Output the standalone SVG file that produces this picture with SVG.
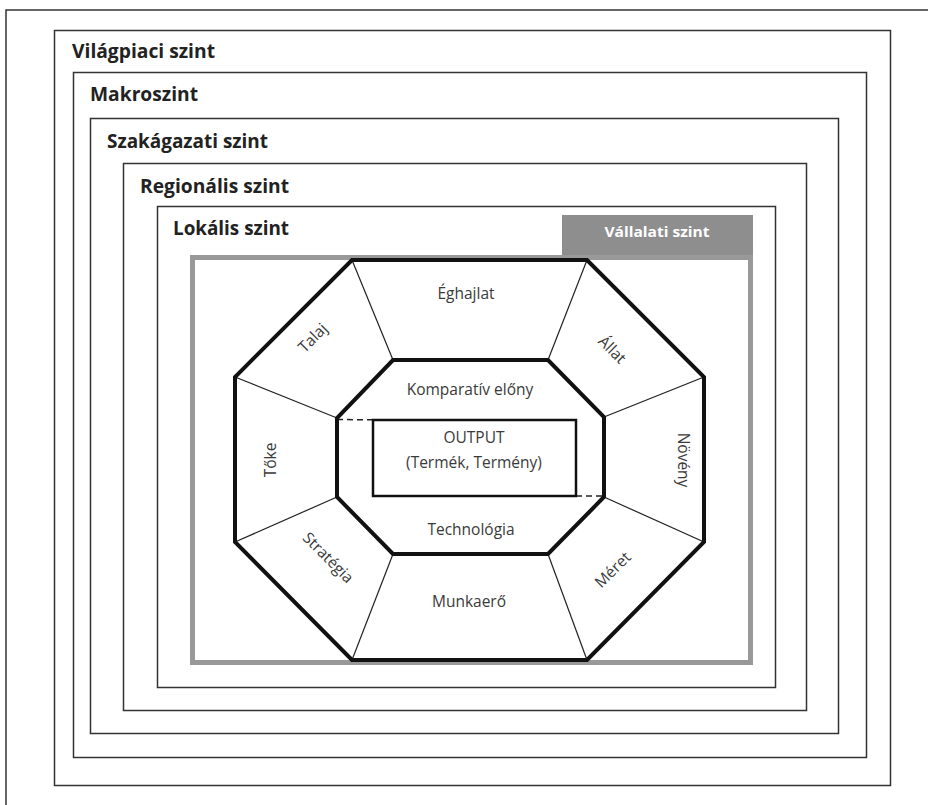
<svg xmlns="http://www.w3.org/2000/svg" width="928" height="805" viewBox="0 0 928 805">
<style>
.frame{fill:none;stroke:#333;stroke-width:1.5}
.lvl{font-family:"Open Sans","Liberation Sans",sans-serif;font-weight:bold;font-size:20px;fill:#222}
.lbl{font-family:"Open Sans","Liberation Sans",sans-serif;font-size:15.5px;fill:#3a3a3a;text-anchor:middle}
.oct{fill:none;stroke:#111;stroke-width:4;stroke-linejoin:miter}
.spoke{stroke:#222;stroke-width:1.2}
</style>
<rect width="928" height="805" fill="#fff"/>
<path d="M6 805 V10 H928" fill="none" stroke="#333" stroke-width="1.5"/>
<g id="vilagpiaci">
<rect class="frame" x="54.5" y="30.5" width="836" height="755"/>
<text class="lvl" x="72" y="58" textLength="143" lengthAdjust="spacingAndGlyphs">Világpiaci szint</text>
</g>
<g id="makro">
<rect class="frame" x="73.5" y="72.5" width="793" height="685"/>
<text class="lvl" x="90" y="101" textLength="108" lengthAdjust="spacingAndGlyphs">Makroszint</text>
</g>
<g id="szakagazati">
<rect class="frame" x="90.5" y="118.5" width="748" height="615"/>
<text class="lvl" x="107" y="148" textLength="161" lengthAdjust="spacingAndGlyphs">Szakágazati szint</text>
</g>
<g id="regionalis">
<rect class="frame" x="123.5" y="163.5" width="683" height="547"/>
<text class="lvl" x="140" y="193" textLength="149" lengthAdjust="spacingAndGlyphs">Regionális szint</text>
</g>
<g id="lokalis">
<rect class="frame" x="157.5" y="206.5" width="618" height="481"/>
<text class="lvl" x="173" y="235" textLength="116" lengthAdjust="spacingAndGlyphs">Lokális szint</text>
</g>
<g id="vallalati">
<rect x="562" y="215" width="191" height="42" fill="#8e8e8e"/>
<rect x="192.5" y="257.5" width="558" height="405" fill="none" stroke="#999" stroke-width="5"/>
<text x="657" y="237" text-anchor="middle" font-family="Open Sans, Liberation Sans, sans-serif" font-weight="bold" font-size="15px" fill="#fff" textLength="105" lengthAdjust="spacingAndGlyphs">Vállalati szint</text>
</g>
<g id="connectors">
<line class="spoke" x1="352" y1="260" x2="393" y2="360"/>
<line class="spoke" x1="587" y1="260" x2="548" y2="360"/>
<line class="spoke" x1="235" y1="377" x2="337" y2="418"/>
<line class="spoke" x1="704" y1="377" x2="604" y2="417"/>
<line class="spoke" x1="235" y1="542" x2="337" y2="497"/>
<line class="spoke" x1="704" y1="542" x2="604" y2="497"/>
<line class="spoke" x1="352" y1="660" x2="393" y2="554"/>
<line class="spoke" x1="587" y1="660" x2="548" y2="554"/>
<line x1="337" y1="419.5" x2="388" y2="420" stroke="#222" stroke-width="1.5" stroke-dasharray="6,4"/>
<line x1="576" y1="496" x2="604" y2="496" stroke="#222" stroke-width="1.5" stroke-dasharray="6,4"/>
</g>
<g id="outer-octagon">
<polygon class="oct" points="352,260 587,260 704,377 704,542 587,660 352,660 235,542 235,377"/>
</g>
<g id="inner-octagon">
<polygon class="oct" points="393,360 548,360 604,417 604,497 548,554 393,554 337,497 337,418"/>
</g>
<g id="output">
<rect x="373" y="420" width="203" height="76" fill="none" stroke="#111" stroke-width="2.5"/>
<text class="lbl" x="474" y="443">OUTPUT</text>
<text class="lbl" x="474" y="468">(Termék, Termény)</text>
</g>
<g id="eghajlat"><text class="lbl" x="466" y="299">Éghajlat</text></g>
<g id="komparativ"><text class="lbl" x="470" y="395">Komparatív előny</text></g>
<g id="technologia"><text class="lbl" x="471" y="535">Technológia</text></g>
<g id="munkaero"><text class="lbl" x="469" y="607">Munkaerő</text></g>
<g id="talaj"><text class="lbl" transform="translate(313,338) rotate(-45)" y="5">Talaj</text></g>
<g id="allat"><text class="lbl" transform="translate(612,350) rotate(45)" y="5">Állat</text></g>
<g id="toke"><text class="lbl" transform="translate(271,460) rotate(-90)" y="5">Tőke</text></g>
<g id="noveny"><text class="lbl" transform="translate(683,460) rotate(90)" y="5">Növény</text></g>
<g id="strategia"><text class="lbl" transform="translate(328,558) rotate(45)" y="5">Stratégia</text></g>
<g id="meret"><text class="lbl" transform="translate(613,570) rotate(-45)" y="5">Méret</text></g>
</svg>
